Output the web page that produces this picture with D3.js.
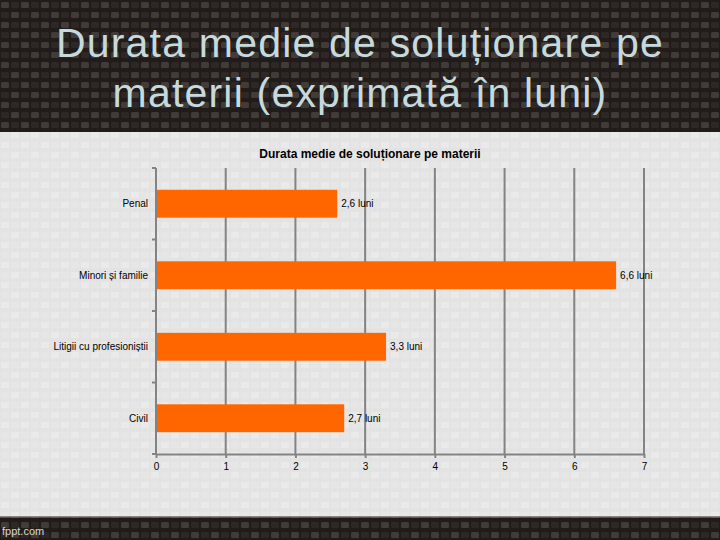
<!DOCTYPE html>
<html>
<head>
<meta charset="utf-8">
<script src="https://cdn.jsdelivr.net/npm/d3@7"></script>
<style>
  html, body { margin: 0; padding: 0; background: #222; }
  svg { display: block; }
</style>
</head>
<body>
<svg id="chart" width="720" height="540"></svg>
<script>
// ---- data ----
const slideTitle = ["Durata medie de soluționare pe", "materii (exprimată în luni)"];
const chartTitle = "Durata medie de soluționare pe materii";
const categories = ["Penal", "Minori și familie", "Litigii cu profesioniștii", "Civil"];
const values = [2.6, 6.6, 3.3, 2.7];
const unit = "luni";
const xTicks = [0, 1, 2, 3, 4, 5, 6, 7];
const footerText = "fppt.com";

const svg = d3.select("#chart");
const defs = svg.append("defs");

// dark woven texture
const dark = defs.append("pattern").attr("id", "dark").attr("patternUnits", "userSpaceOnUse")
  .attr("width", 20).attr("height", 20);
dark.append("rect").attr("width", 20).attr("height", 20).attr("fill", "#211c1a");
dark.append("rect").attr("x", 1).attr("y", 2).attr("width", 8).attr("height", 6).attr("rx", 1.5).attr("fill", "#423c39");
dark.append("rect").attr("x", 11).attr("y", 12).attr("width", 8).attr("height", 6).attr("rx", 1.5).attr("fill", "#423c39");
dark.append("rect").attr("x", 11).attr("y", 2).attr("width", 8).attr("height", 6).attr("rx", 1.5).attr("fill", "#2d2725");
dark.append("rect").attr("x", 1).attr("y", 12).attr("width", 8).attr("height", 6).attr("rx", 1.5).attr("fill", "#2d2725");

// light woven texture
const light = defs.append("pattern").attr("id", "light").attr("patternUnits", "userSpaceOnUse")
  .attr("width", 20).attr("height", 20);
light.append("rect").attr("width", 20).attr("height", 20).attr("fill", "#e3e3e3");
light.append("rect").attr("x", 1).attr("y", 2).attr("width", 8).attr("height", 6).attr("fill", "#eaeaea");
light.append("rect").attr("x", 11).attr("y", 12).attr("width", 8).attr("height", 6).attr("fill", "#eaeaea");
light.append("rect").attr("x", 11).attr("y", 2).attr("width", 8).attr("height", 6).attr("fill", "#e6e6e6");
light.append("rect").attr("x", 1).attr("y", 12).attr("width", 8).attr("height", 6).attr("fill", "#e6e6e6");

// background
svg.append("rect").attr("x", 0).attr("y", 0).attr("width", 720).attr("height", 540).attr("fill", "url(#dark)");
svg.append("rect").attr("x", 0).attr("y", 132).attr("width", 720).attr("height", 385).attr("fill", "url(#light)");
svg.append("rect").attr("x", 0).attr("y", 516).attr("width", 720).attr("height", 1.5).attr("fill", "#8a8580");

// slide title
svg.append("g").selectAll("text").data(slideTitle).join("text")
  .attr("x", 360).attr("y", (d, i) => 57 + i * 50)
  .attr("text-anchor", "middle")
  .attr("font-family", "Liberation Sans, Arial, sans-serif")
  .attr("font-size", 41).attr("letter-spacing", 1.2)
  .attr("fill", "#c6dadd")
  .text(d => d);

// footer
svg.append("text").attr("x", 2).attr("y", 535)
  .attr("font-family", "Liberation Sans, Arial, sans-serif").attr("font-size", 11)
  .attr("fill", "#d8d8d8").text(footerText);

// chart title
svg.append("text").attr("x", 370).attr("y", 158).attr("text-anchor", "middle")
  .attr("font-family", "Liberation Sans, Arial, sans-serif").attr("font-size", 12)
  .attr("font-weight", "bold").attr("fill", "#000").text(chartTitle);

// scales
const x = d3.scaleLinear().domain([0, 7]).range([156, 644]);
const y = d3.scaleBand().domain(categories).range([168, 454]).paddingInner(0.61).paddingOuter(0.305);

const axisColor = "#838383";

// gridlines
svg.append("g").selectAll("line").data(xTicks.filter(t => t > 0)).join("line")
  .attr("x1", d => x(d)).attr("x2", d => x(d))
  .attr("y1", 168).attr("y2", 454)
  .attr("stroke", axisColor).attr("stroke-width", 2);

// bars
svg.append("g").selectAll("rect").data(values).join("rect")
  .attr("x", x(0)).attr("y", (d, i) => y(categories[i]))
  .attr("width", d => x(d) - x(0)).attr("height", y.bandwidth())
  .attr("fill", "#ff6600");

// value labels
svg.append("g").selectAll("text").data(values).join("text")
  .attr("x", d => x(d) + 4).attr("y", (d, i) => y(categories[i]) + y.bandwidth() / 2 + 3.5)
  .attr("font-family", "Liberation Sans, Arial, sans-serif").attr("font-size", 10)
  .attr("fill", "#000")
  .text(d => String(d).replace(".", ",") + " " + unit);

// bottom axis
const xAxis = d3.axisBottom(x).tickValues(xTicks).tickSize(4).tickSizeOuter(0).tickFormat(d3.format("d"));
const gx = svg.append("g").attr("transform", "translate(0,454)").call(xAxis);
gx.select(".domain").attr("stroke", axisColor).attr("stroke-width", 2);
gx.selectAll(".tick line").attr("stroke", axisColor).attr("stroke-width", 2);
gx.selectAll(".tick text").attr("font-family", "Liberation Sans, Arial, sans-serif")
  .attr("font-size", 10).attr("fill", "#000").attr("dy", "0.9em").attr("y", 7);

// left axis
const gy = svg.append("g").attr("transform", "translate(156,0)");
gy.append("line").attr("x1", 0).attr("x2", 0).attr("y1", 168).attr("y2", 455)
  .attr("stroke", axisColor).attr("stroke-width", 2);
const boundaries = [168].concat(categories.map(c => y(c) + y.bandwidth() + y.step() * y.paddingInner() / 2));
gy.selectAll("line.tk").data(boundaries).join("line").attr("class", "tk")
  .attr("x1", -4).attr("x2", 0).attr("y1", d => d).attr("y2", d => d)
  .attr("stroke", axisColor).attr("stroke-width", 2);
gy.selectAll("text").data(categories).join("text")
  .attr("x", -8).attr("y", d => y(d) + y.bandwidth() / 2 + 3.5)
  .attr("text-anchor", "end")
  .attr("font-family", "Liberation Sans, Arial, sans-serif").attr("font-size", 10)
  .attr("fill", "#000").text(d => d);
</script>
</body>
</html>
